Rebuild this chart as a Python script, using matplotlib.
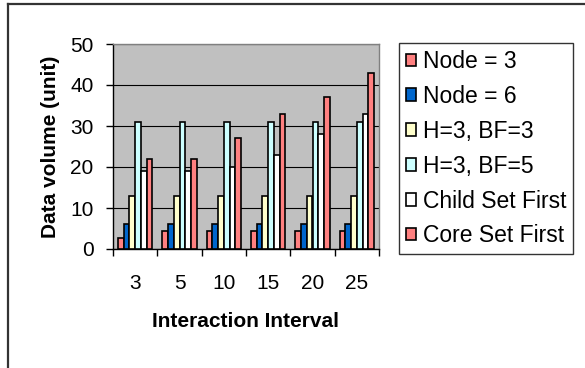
import matplotlib
matplotlib.use("Agg")
import matplotlib.pyplot as plt
from matplotlib.lines import Line2D
import numpy as np

plt.rcParams['font.family'] = ['Liberation Sans', 'DejaVu Sans']

intervals = ['3', '5', '10', '15', '20', '25']
series = ['Node = 3', 'Node = 6', 'H=3, BF=3', 'H=3, BF=5', 'Child Set First', 'Core Set First']
node3 = [2.7, 4.3, 4.3, 4.3, 4.3, 4.3]
node6 = [6, 6, 6, 6, 6, 6]
h3_bf3 = [13, 13, 13, 13, 13, 13]
h3_bf5 = [31, 31, 31, 31, 31, 31]
child_first = [19, 19, 20, 23, 28, 33]
core_first = [22, 22, 27, 33, 37, 43]
colors = ['#FF8080', '#0066CC', '#FFFFCC', '#CCFFFF', '#FFFFFF', '#FF8080']

values = [node3, node6, h3_bf3, h3_bf5, child_first, core_first]

fs = 15

fig = plt.figure(figsize=(5.85, 3.68), dpi=100)
ax = fig.add_axes([113 / 585, 1 - 249 / 368, 266 / 585, 205 / 368])
ax.set_facecolor('#C0C0C0')

w = 0.13
x = np.arange(len(intervals)) + 0.5
handles = []
for k, (vals, col, name) in enumerate(zip(values, colors, series)):
    b = ax.bar(x + (k - 2.5) * w, vals, width=w, color=col, edgecolor='black',
               linewidth=1.2, label=name, zorder=3)
    handles.append(b)

ax.set_xlim(0, 6)
ax.set_ylim(0, 50)
ax.set_yticks(range(0, 51, 10))
ax.yaxis.grid(True, color='black', linewidth=0.8, zorder=1)
ax.set_axisbelow(True)

# category labels centred, tick marks at the group boundaries
ax.set_xticks(np.arange(0, 7))
ax.set_xticklabels([])
ax.set_xticks(x, minor=True)
ax.set_xticklabels(intervals, minor=True)
ax.tick_params(axis='x', which='minor', length=0, pad=18, labelsize=fs)
ax.tick_params(axis='x', which='major', length=5, width=1, direction='out')
ax.tick_params(axis='y', length=5, width=1, direction='out', pad=9, labelsize=fs)

for side in ['top', 'right']:
    ax.spines[side].set_color('#808080')
    ax.spines[side].set_linewidth(1.0)
for side in ['left', 'bottom']:
    ax.spines[side].set_color('black')
    ax.spines[side].set_linewidth(1.0)

ax.set_xlabel('Interaction Interval', fontsize=fs, fontweight='bold', labelpad=14)
ax.set_ylabel('Data volume (unit)', fontsize=fs, fontweight='bold', labelpad=7)

leg = fig.legend(handles=handles, labels=series, loc='upper left',
                 bbox_to_anchor=(399 / 585, 1 - 43 / 368), borderaxespad=0,
                 fontsize=16.5, frameon=True, fancybox=False, handlelength=0.45,
                 handleheight=0.45, handletextpad=0.3, labelspacing=0.52,
                 borderpad=0.3)
leg.get_frame().set_edgecolor('black')
leg.get_frame().set_linewidth(1.0)

# outer chart border
fig.add_artist(Line2D([8 / 585, 8 / 585], [0, 1 - 4 / 368], color='#333333', linewidth=1.6))
fig.add_artist(Line2D([8 / 585, 1], [1 - 4 / 368, 1 - 4 / 368], color='#333333', linewidth=1.6))

fig.savefig('out.png', dpi=100)
